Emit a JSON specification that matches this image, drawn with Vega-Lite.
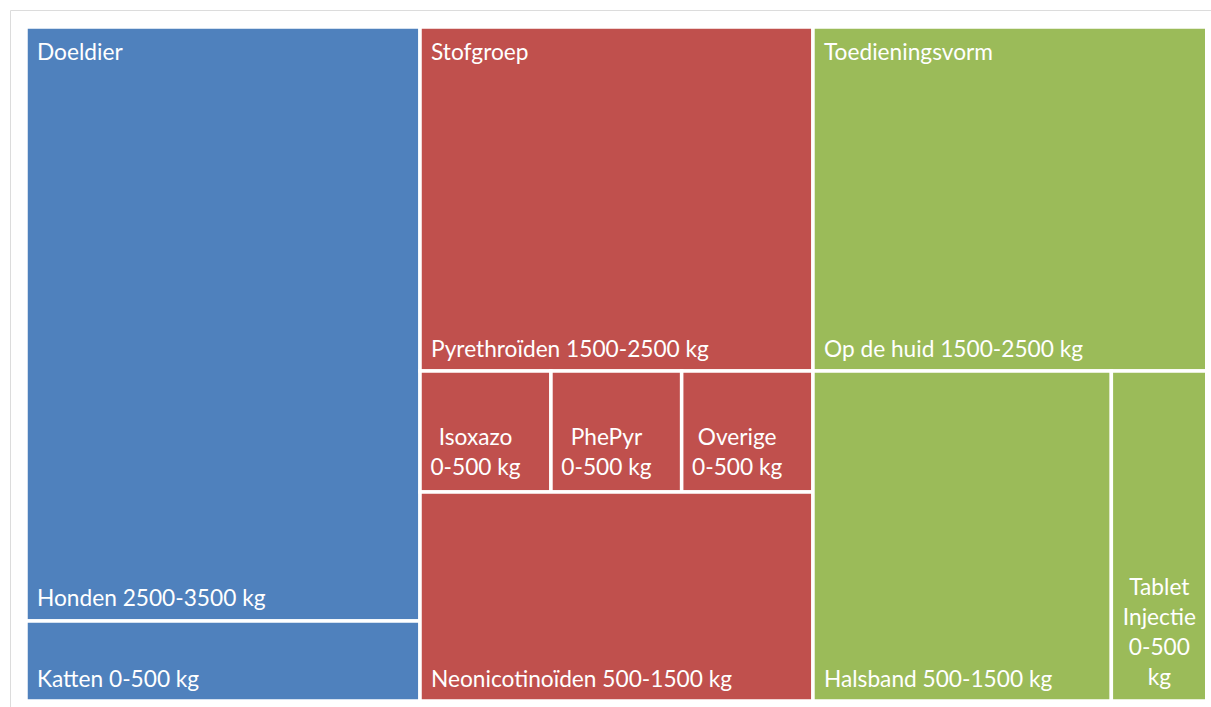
{
  "$schema": "https://vega.github.io/schema/vega-lite/v6.json",
  "autosize": "none",
  "padding": {"left": 10, "top": 10, "right": 0, "bottom": 0},
  "width": 1201,
  "height": 697,
  "background": "white",
  "config": {"view": {"stroke": "#dcdcdc", "strokeWidth": 1}},
  "datasets": {
    "cells": [
      {"name": "Honden", "group": "Doeldier", "label": "Honden 2500-3500 kg", "x0": 0, "x1": 33.37, "y0": 0, "y1": 88.13},
      {"name": "Katten", "group": "Doeldier", "label": "Katten 0-500 kg", "x0": 0, "x1": 33.37, "y0": 88.13, "y1": 100},
      {"name": "Pyrethroïden", "group": "Stofgroep", "label": "Pyrethroïden 1500-2500 kg", "x0": 33.37, "x1": 66.65, "y0": 0, "y1": 51.04},
      {"name": "Isoxazo", "group": "Stofgroep", "label": "Isoxazo\n0-500 kg", "x0": 33.37, "x1": 44.46, "y0": 51.04, "y1": 68.99},
      {"name": "PhePyr", "group": "Stofgroep", "label": "PhePyr\n0-500 kg", "x0": 44.46, "x1": 55.53, "y0": 51.04, "y1": 68.99},
      {"name": "Overige", "group": "Stofgroep", "label": "Overige\n0-500 kg", "x0": 55.53, "x1": 66.65, "y0": 51.04, "y1": 68.99},
      {"name": "Neonicotinoïden", "group": "Stofgroep", "label": "Neonicotinoïden 500-1500 kg", "x0": 33.37, "x1": 66.65, "y0": 68.99, "y1": 100},
      {"name": "Op de huid", "group": "Toedieningsvorm", "label": "Op de huid 1500-2500 kg", "x0": 66.65, "x1": 100, "y0": 0, "y1": 51.04},
      {"name": "Halsband", "group": "Toedieningsvorm", "label": "Halsband 500-1500 kg", "x0": 66.65, "x1": 91.92, "y0": 51.04, "y1": 100},
      {"name": "Tablet Injectie", "group": "Toedieningsvorm", "label": "Tablet\nInjectie\n0-500\nkg", "x0": 91.92, "x1": 100, "y0": 51.04, "y1": 100}
    ],
    "groups": [
      {"group": "Doeldier", "x0": 0, "y0": 0},
      {"group": "Stofgroep", "x0": 33.37, "y0": 0},
      {"group": "Toedieningsvorm", "x0": 66.65, "y0": 0}
    ]
  },
  "layer": [
    {
      "data": {"name": "cells"},
      "mark": {"type": "rect", "stroke": "white", "strokeWidth": 3.5, "opacity": 1},
      "encoding": {
        "x": {"field": "x0", "type": "quantitative", "scale": {"domain": [-1.355, 100.36], "nice": false, "zero": false}, "axis": null},
        "x2": {"field": "x1"},
        "y": {"field": "y0", "type": "quantitative", "scale": {"domain": [-2.522, 100.89], "nice": false, "zero": false, "reverse": true}, "axis": null},
        "y2": {"field": "y1"},
        "color": {"field": "group", "type": "nominal", "scale": {"domain": ["Doeldier", "Stofgroep", "Toedieningsvorm"], "range": ["#4F81BD", "#C0504D", "#9BBB59"]}, "legend": null}
      }
    },
    {
      "data": {"name": "groups"},
      "mark": {"type": "text", "align": "left", "baseline": "alphabetic", "dx": 11, "dy": 33, "font": "Lato", "fontSize": 22.7, "color": "white"},
      "encoding": {
        "x": {"field": "x0", "type": "quantitative"},
        "y": {"field": "y0", "type": "quantitative"},
        "text": {"field": "group"}
      }
    },
    {
      "data": {"name": "cells"},
      "transform": [{"filter": {"field": "name", "oneOf": ["Honden", "Katten", "Pyrethroïden", "Neonicotinoïden", "Op de huid", "Halsband"]}}],
      "mark": {"type": "text", "align": "left", "baseline": "alphabetic", "dx": 11, "dy": -14.5, "font": "Lato", "fontSize": 22.7, "color": "white"},
      "encoding": {
        "x": {"field": "x0", "type": "quantitative"},
        "y": {"field": "y1", "type": "quantitative"},
        "text": {"field": "label"}
      }
    },
    {
      "data": {"name": "cells"},
      "transform": [{"filter": {"field": "name", "oneOf": ["Isoxazo", "PhePyr", "Overige"]}}],
      "mark": {"type": "text", "align": "center", "baseline": "alphabetic", "dx": 55.5, "dy": 73.5, "lineBreak": "\n", "lineHeight": 30.5, "font": "Lato", "fontSize": 22.7, "color": "white"},
      "encoding": {
        "x": {"field": "x0", "type": "quantitative"},
        "y": {"field": "y0", "type": "quantitative"},
        "text": {"field": "label"}
      }
    },
    {
      "data": {"name": "cells"},
      "transform": [{"filter": {"field": "name", "equal": "Tablet Injectie"}}],
      "mark": {"type": "text", "align": "center", "baseline": "alphabetic", "dx": 48, "dy": 224, "lineBreak": "\n", "lineHeight": 30, "font": "Lato", "fontSize": 22.7, "color": "white"},
      "encoding": {
        "x": {"field": "x0", "type": "quantitative"},
        "y": {"field": "y0", "type": "quantitative"},
        "text": {"field": "label"}
      }
    }
  ]
}
